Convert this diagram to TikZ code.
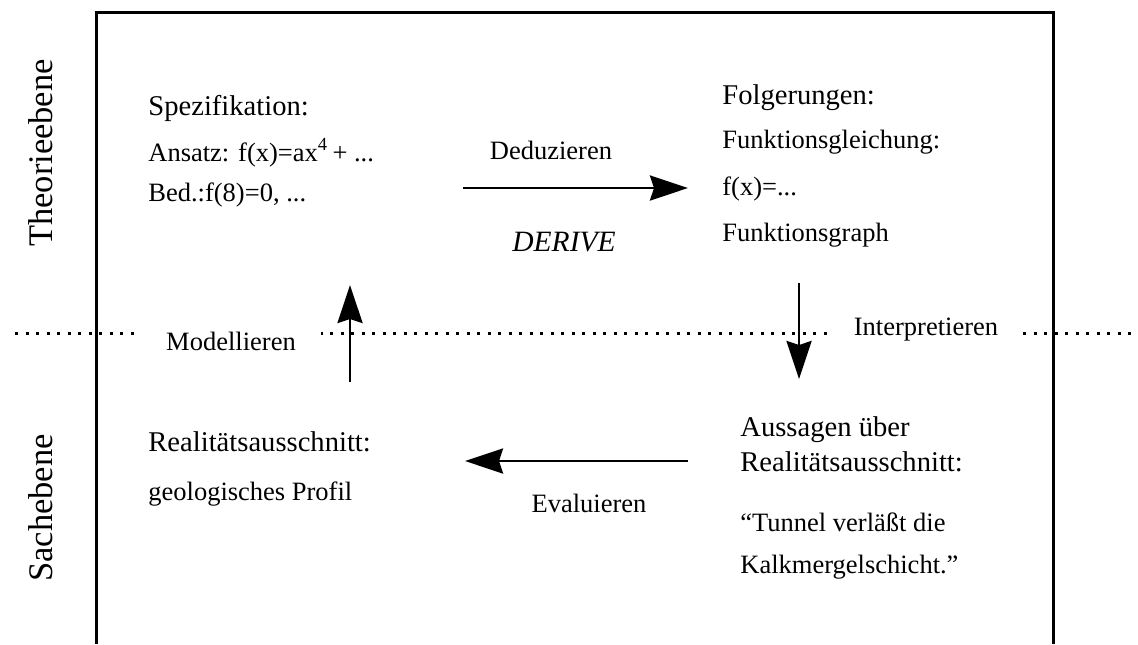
\documentclass[tikz,border=0pt]{standalone}
\usepackage{fontspec}
\setmainfont{Liberation Serif}
\usetikzlibrary{arrows.meta}
\tikzset{
  titel/.style={anchor=base west, inner sep=0pt, font=\fontsize{14.3}{17}\selectfont},
  eintrag/.style={anchor=base west, inner sep=0pt, font=\fontsize{13.25}{16}\selectfont},
  ebene/.style={anchor=base, rotate=90, inner sep=0pt, font=\fontsize{17.25}{20}\selectfont},
  schritt/.style={anchor=base, inner sep=0pt, font=\fontsize{13.25}{16}\selectfont},
  schrittweiss/.style={schritt, fill=white, inner xsep=12.5pt, inner ysep=3pt},
  pfeil/.style={-{Stealth[length=19pt, width=12.5pt, inset=2pt]}, line width=1.4pt},
  trenner/.style={line width=1.5pt, dash pattern=on 1.5pt off 3.75pt},
  rahmen/.style={line width=1.5pt}
}

\begin{document}
\begin{tikzpicture}[x=0.5pt, y=-0.5pt]
  \useasboundingbox (0,0) rectangle (1138,644);
  % Rahmen und Trennlinie
  \draw[rahmen] (96,644) -- (96,12) -- (1053,12) -- (1053,644);
  \coordinate (tl) at (15,333);
  \coordinate (tr) at (1138,333);
  \draw[trenner] (tl) -- (tr);

  % Ebenen
  \node[ebene] (theorie) at (52,153) {Theorieebene};
  \node[ebene] (sache) at (52,508) {Sachebene};

  % Theorieebene
  \node[titel] (spez) at (148,115) {Spezifikation:};
  \node[eintrag] (ansatz) at (148,161) {Ansatz: f(x)=ax\textsuperscript{4}\,+ ...};
  \node[eintrag] (bed) at (148,201) {Bed.:f(8)=0, ...};
  \node[titel] (folg) at (722,104) {Folgerungen:};
  \node[eintrag] (fgl) at (722,148) {Funktionsgleichung:};
  \node[eintrag] (fx) at (722,195) {f(x)=...};
  \node[eintrag] (fgraph) at (722,241) {Funktionsgraph};

  % Sachebene
  \node[titel] (real) at (148,451) {Realitätsausschnitt:};
  \node[eintrag] (profil) at (148,500) {geologisches Profil};
  \node[titel] (aussagen) at (740,436) {Aussagen über};
  \node[titel] (real2) at (740,471) {Realitätsausschnitt:};
  \node[eintrag] (tunnel) at (740,531) {“Tunnel verläßt die};
  \node[eintrag] (kalk) at (740,573) {Kalkmergelschicht.”};

  % Pfeile
  \coordinate (ded1) at (463,188);
  \coordinate (ded2) at (688,188);
  \coordinate (int1) at (799,283);
  \coordinate (int2) at (799,379);
  \coordinate (eva1) at (688,461);
  \coordinate (eva2) at (465,461);
  \coordinate (mod1) at (350,382);
  \coordinate (mod2) at (350,285);
  \draw[pfeil] (ded1) -- (ded2);
  \draw[pfeil] (int1) -- (int2);
  \draw[pfeil] (eva1) -- (eva2);
  \draw[pfeil] (mod1) -- (mod2);

  \node[schritt] (deduz) at (551,159) {Deduzieren};
  \node[schritt, font=\fontsize{14.75}{18}\selectfont\itshape] (derive) at (564,251) {DERIVE};
  \node[schritt] (evalu) at (589,512) {Evaluieren};
  \node[schrittweiss] (model) at (231,350) {Modellieren};
  \node[schrittweiss] (interp) at (926,335) {Interpretieren};
\end{tikzpicture}
\end{document}
